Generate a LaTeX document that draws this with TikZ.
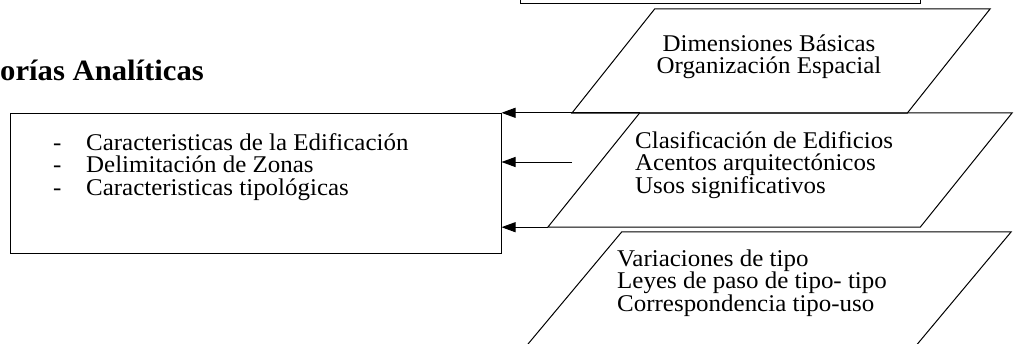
\documentclass[tikz,border=0pt]{standalone}
\usepackage{fontspec}
\setmainfont[FakeStretch=1.04]{Liberation Serif}
\usepackage{tikz}
\usetikzlibrary{calc,positioning,arrows.meta}
\tikzset{
  caja/.style={
      draw,
      line width=1pt,
      rectangle,
      inner sep=0pt,
  },
  marco/.style={
      rectangle,
      inner sep=0pt,
  },
  linea/.style={
      line width=1pt,
      line join=miter,
  },
  texto/.style={
      inner sep=0pt,
      font=\fontsize{24}{22.5}\selectfont,
  },
  flecha/.style={
      line width=1pt,
      -{Triangle[length=14pt,width=10pt]},
  },
}
% parallelogram on the frame of node #1, top edge shifted right by #2
\newcommand{\paralelo}[2]{
  \coordinate (#1bl) at (#1.south west);
  \coordinate (#1tl) at ($(#1.north west)+(#2,0)$);
  \coordinate (#1tr) at (#1.north east);
  \coordinate (#1br) at ($(#1.south east)-(#2,0)$);
  \draw[linea] (#1bl) -- (#1tl) -- (#1tr) -- (#1br) -- cycle;
}
\newcommand{\renglones}[1]{\vtop{\baselineskip=22.5pt\lineskiplimit=-100pt #1}}
\newcommand{\guion}[1]{\hbox{\makebox[33pt][l]{-}#1}}
\newcommand{\centrado}[1]{\hbox to 0pt{\hss #1\hss}}

\begin{document}
\begin{tikzpicture}[x=1pt,y=-1pt]
  \useasboundingbox (0,0) rectangle (1014,343);

  \node[anchor=base west,inner sep=0pt,font=\fontsize{29.5}{34}\selectfont\bfseries]
      (titulo) at (0,80) {orías Analíticas};

  \node[caja,minimum width=491pt,minimum height=140pt] (box) at (255.5,183) {};
  \node[texto,anchor=base west] (lst) at (53,150) {\renglones{%
      \guion{Caracteristicas de la Edificación}
      \guion{Delimitación de Zonas}
      \guion{Caracteristicas tipológicas}}};

  \node[caja,minimum width=400pt,minimum height=63pt] (top) at (720,-28.5) {};

  \node[marco,minimum width=418pt,minimum height=104pt] (p1) at (781,61) {};
  \node[marco,minimum width=464pt,minimum height=114pt] (p2) at (780,170) {};
  \node[marco,minimum width=498pt,minimum height=130pt] (p3) at (762,297) {};
  \paralelo{p1}{83}
  \paralelo{p2}{92}
  \paralelo{p3}{109}

  \node[texto,anchor=base] (t1) at (769,51) {\renglones{%
      \centrado{Dimensiones Básicas}
      \centrado{Organización Espacial}}};
  \node[texto,anchor=base west] (t2) at (635,148) {\renglones{%
      \hbox{Clasificación de Edificios}
      \hbox{Acentos arquitectónicos}
      \hbox{Usos significativos}}};
  \node[texto,anchor=base west] (t3) at (617,266) {\renglones{%
      \hbox{Variaciones de tipo}
      \hbox{Leyes de paso de tipo- tipo}
      \hbox{Correspondencia tipo-uso}}};

  \coordinate (medio) at (572,162);
  \draw[flecha] (p2tl) -- (p2tl -| box.east);
  \draw[flecha] (medio) -- (medio -| box.east);
  \draw[flecha] (p2bl) -- (p2bl -| box.east);
\end{tikzpicture}
\end{document}
